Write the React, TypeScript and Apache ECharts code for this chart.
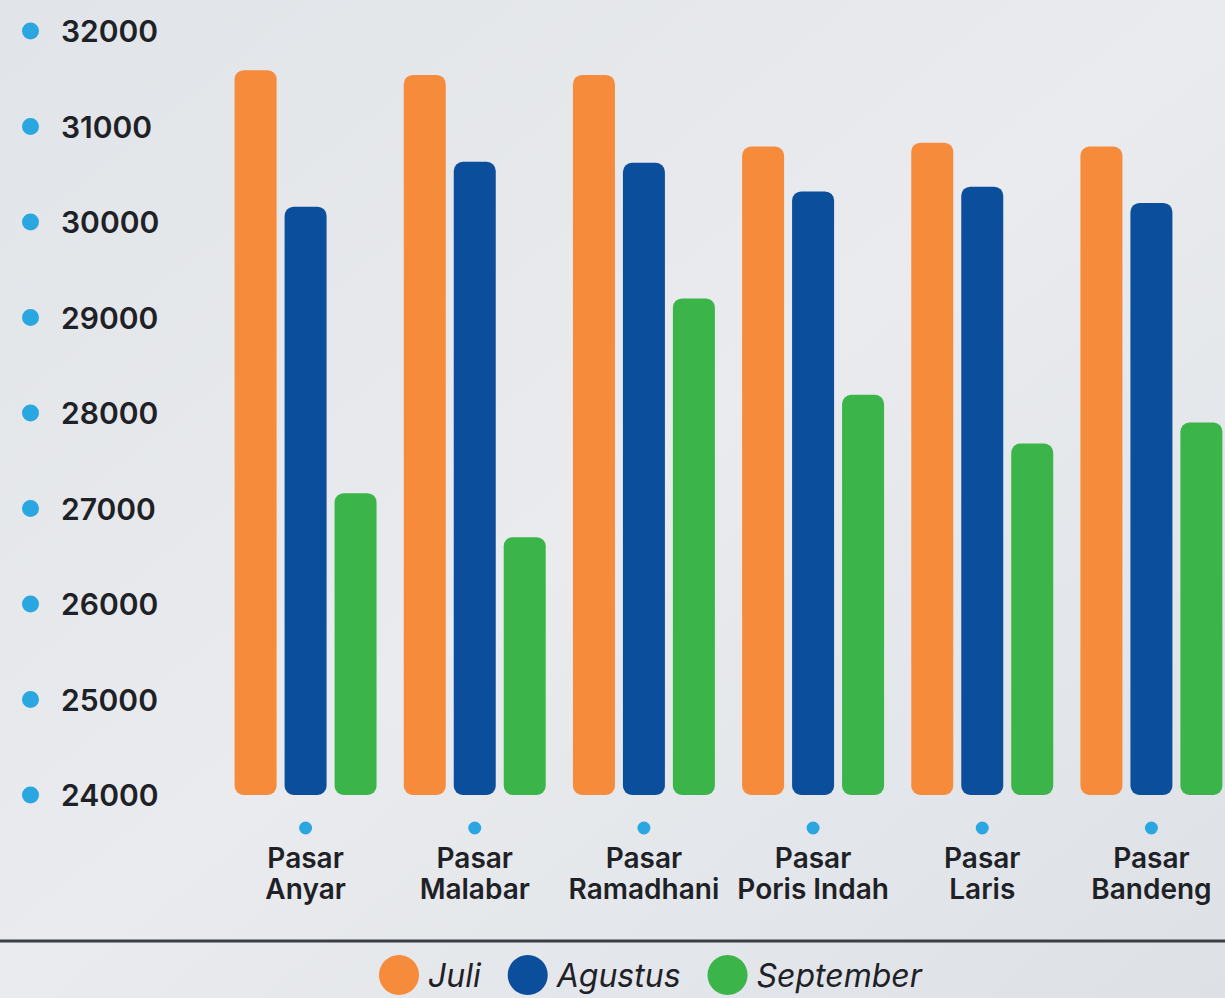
import React, { useEffect, useRef } from "react";
import * as echarts from "echarts";

const categories = [
  "Pasar\nAnyar",
  "Pasar\nMalabar",
  "Pasar\nRamadhani",
  "Pasar\nPoris Indah",
  "Pasar\nLaris",
  "Pasar\nBandeng",
];
const juli = [31590, 31540, 31540, 30790, 30830, 30790];
const agustus = [30160, 30630, 30620, 30320, 30370, 30200];
const september = [27160, 26700, 29200, 28190, 27680, 27900];
const seriesNames = ["Juli", "Agustus", "September"];
const colors = ["#f58b3b", "#0b4f9c", "#3bb54a"];

const FONT = "Inter, 'Noto Sans', sans-serif";

export default function App() {
  const ref = useRef<HTMLDivElement>(null);
  useEffect(() => {
    if (!ref.current) return;
    const chart = echarts.init(ref.current, null, { renderer: "svg" });
    const data = [juli, agustus, september];
    chart.setOption({
      animation: false,
      backgroundColor: {
        type: "linear",
        x: 0,
        y: 0,
        x2: 1,
        y2: 1,
        colorStops: [
          { offset: 0, color: "#e1e4e8" },
          { offset: 0.5, color: "#e9ebee" },
          { offset: 1, color: "#dde1e6" },
        ],
      },
      grid: { left: 221, top: 31, width: 1015, height: 764 },
      legend: {
        top: 950,
        left: 374,
        icon: "circle",
        itemWidth: 40,
        itemHeight: 40,
        itemGap: 27,
        textStyle: {
          fontFamily: FONT,
          fontStyle: "italic",
          fontSize: 32,
          color: "#1e2126",
          padding: [0, 0, 0, 4],
        },
        data: seriesNames,
      },
      xAxis: {
        type: "category",
        data: categories,
        axisLine: { show: false },
        axisTick: { show: false },
        axisLabel: {
          margin: 19,
          interval: 0,
          formatter: (v: string) =>
            "{d|}\n" + v.split("\n").map((s) => "{t|" + s + "}").join("\n"),
          rich: {
            d: {
              width: 13,
              height: 13,
              borderRadius: 7,
              backgroundColor: "#2aa6e0",
              lineHeight: 28,
            },
            t: {
              fontFamily: FONT,
              fontSize: 28,
              fontWeight: 600,
              color: "#1e2126",
              lineHeight: 31,
            },
          },
        },
      },
      yAxis: {
        type: "value",
        min: 24000,
        max: 32000,
        interval: 1000,
        splitLine: { show: false },
        axisLine: { show: false },
        axisTick: { show: false },
        axisLabel: {
          align: "left",
          margin: 199,
          formatter: (v: number) => "{d|}{t|" + v + "}",
          rich: {
            d: {
              width: 17,
              height: 17,
              borderRadius: 9,
              backgroundColor: "#2aa6e0",
            },
            t: {
              fontFamily: FONT,
              fontSize: 30,
              fontWeight: 600,
              color: "#1e2126",
              padding: [0, 0, 0, 22],
            },
          },
        },
      },
      graphic: [
        {
          type: "line",
          shape: { x1: 0, y1: 941, x2: 1245, y2: 941 },
          style: { stroke: "#3b3f45", lineWidth: 3 },
        },
      ],
      series: seriesNames.map((name, i) => ({
        name,
        type: "bar",
        data: data[i],
        barWidth: 42,
        barGap: "19%",
        itemStyle: { color: colors[i], borderRadius: 9 },
      })),
    });
    return () => chart.dispose();
  }, []);
  return (
    <div
      style={{
        position: "fixed",
        left: 0,
        top: 0,
        width: 1225,
        height: 998,
        overflow: "hidden",
      }}
    >
      <div ref={ref} style={{ width: 1245, height: 998 }} />
    </div>
  );
}
